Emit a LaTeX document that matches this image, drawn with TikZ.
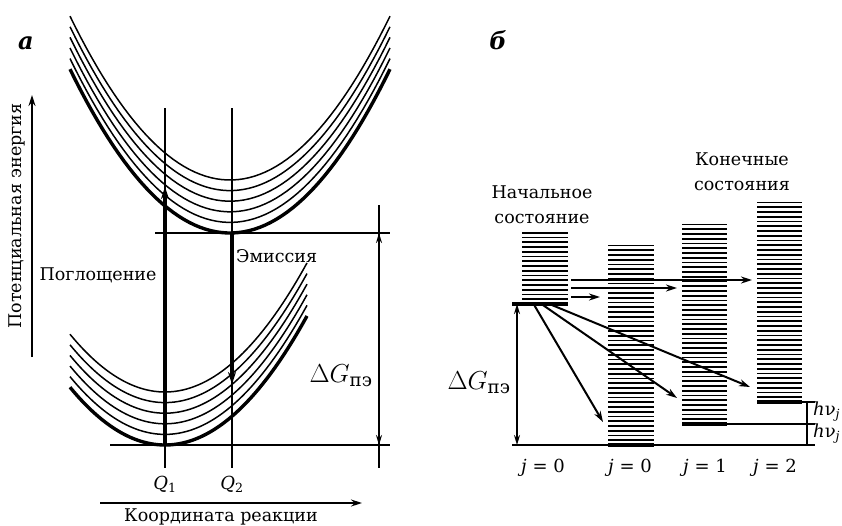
\RequirePackage{fix-cm}
\documentclass[tikz,border=0pt]{standalone}
\usepackage{amsmath}
\usepackage{fontspec}
\setmainfont{DejaVu Serif}
\usepackage{tikz}
\usetikzlibrary{arrows.meta, positioning, calc}
\tikzset{
  well/.style={line width=1.5pt},
  wellbase/.style={line width=3.4pt},
  guide/.style={line width=1.3pt},
  rung/.style={line width=1.7pt},
  rungbase/.style={line width=3.2pt},
  arrow/.style={-{Stealth[length=11pt,width=7pt]}, line width=2pt},
  bigarrow/.style={-{Stealth[length=12pt,width=8pt]}, line width=3.2pt},
  dblarrow/.style={{Stealth[length=10pt,width=6pt]}-{Stealth[length=10pt,width=6pt]}, line width=1.6pt},
  txt/.style={font=\fontsize{17.5}{25}\selectfont, inner sep=0pt, align=center},
  mathtxt/.style={font=\fontsize{18}{20}\selectfont, inner sep=0pt},
  biglbl/.style={font=\fontsize{26}{30}\selectfont, inner sep=0pt},
  panel/.style={font=\fontsize{24}{26}\selectfont\bfseries\itshape, inner sep=0pt}
}

\begin{document}
\begin{tikzpicture}[x=1pt, y=-1pt]
  \useasboundingbox (0,0) rectangle (842,525);

  % Panel letters
  \node[panel] (pa) at (26,43) {а};
  \node[panel] (pb) at (498,40) {б};

  % ---- a: potential wells ----
  \foreach \i in {1,...,5}
    \draw[well] plot[domain=70:390, samples=60] (\x, {233-\i*10.6-0.64*((\x-230)/10)^2});
  \draw[wellbase] plot[domain=70:390, samples=60] (\x, {233-0.64*((\x-230)/10)^2});
  \foreach \i in {1,...,5}
    \draw[well] plot[domain=70:307, samples=60] (\x, {445-\i*10.6-0.64*((\x-165)/10)^2});
  \draw[wellbase] plot[domain=70:307, samples=60] (\x, {445-0.64*((\x-165)/10)^2});

  % Axes
  \coordinate (yaxB) at (32,357);
  \coordinate (yaxT) at (32,95);
  \coordinate (xaxL) at (100,503);
  \coordinate (xaxR) at (362,503);
  \draw[arrow, line width=1.4pt] (yaxB) -- (yaxT);
  \draw[arrow, line width=1.4pt] (xaxL) -- (xaxR);
  \node[txt, rotate=90] (ylbl) at (17,216) {Потенциальная энергия};
  \node[txt] (xlbl) at (221,517) {Координата реакции};

  % Q lines
  \coordinate (q1T) at (165,108);
  \coordinate (q1B) at (165,468);
  \coordinate (q2T) at (232,108);
  \coordinate (q2B) at (232,468);
  \draw[guide] (q1T) -- (q1B);
  \draw[guide] (q2T) -- (q2B);
  \node[mathtxt, below=8pt of q1B] (q1) {\textit{Q}\textsubscript{1}};
  \node[mathtxt, below=8pt of q2B] (q2) {\textit{Q}\textsubscript{2}};

  % Minima levels
  \coordinate (upL) at (155,233);
  \coordinate (upR) at (390,233);
  \coordinate (loL) at (110,445);
  \coordinate (loR) at (390,445);
  \draw[guide] (upL) -- (upR);
  \draw[guide] (loL) -- (loR);

  % Transitions
  \coordinate (absS) at (165,445);
  \coordinate (absE) at (165,187);
  \coordinate (emS) at (232,233);
  \coordinate (emE) at (232,384);
  \draw[bigarrow] (absS) -- (absE);
  \draw[bigarrow] (emS) -- (emE);
  \node[txt] (absorb) at (98,275) {Поглощение};
  \node[txt, anchor=west] (emit) at (236,256) {Эмиссия};

  % Delta G (a)
  \coordinate (dgT) at (379,205);
  \coordinate (dgB) at (379,468);
  \coordinate (dgU) at (379,233);
  \coordinate (dgD) at (379,445);
  \draw[guide] (dgT) -- (dgB);
  \draw[dblarrow] (dgU) -- (dgD);
  \node[biglbl] (dGa) at (341,376) {$\Delta G_{\text{пэ}}$};

  % ---- b: vibrational ladders ----
  \foreach \xl/\xr/\yb/\n in {522/568/304/15, 608/654/445/42, 682/727/424/42, 757/802/402/42} {
    \foreach \k in {1,...,\n}
      \draw[rung] (\xl,{\yb-4.75*\k}) -- (\xr,{\yb-4.75*\k});
    \draw[rungbase] (\xl,\yb) -- (\xr,\yb);
  }
  \coordinate (s0L) at (512,304);
  \coordinate (s0R) at (568,304);
  \draw[rungbase] (s0L) -- (s0R);

  % Base lines
  \coordinate (g0L) at (512,445);
  \coordinate (g0R) at (815,445);
  \coordinate (g1L) at (727,424);
  \coordinate (g1R) at (815,424);
  \coordinate (g2L) at (802,402);
  \coordinate (g2R) at (815,402);
  \coordinate (hvT) at (807,402);
  \coordinate (hvB) at (807,445);
  \draw[guide] (g0L) -- (g0R);
  \draw[guide] (g1L) -- (g1R);
  \draw[guide] (g2L) -- (g2R);
  \draw[guide] (hvT) -- (hvB);
  \node[mathtxt, anchor=west] (hv2) at (813,412) {\textit{h}ν\textsubscript{\textit{j}}};
  \node[mathtxt, anchor=west] (hv1) at (813,434) {\textit{h}ν\textsubscript{\textit{j}}};

  % Delta G (b)
  \coordinate (dgbT) at (517,304);
  \coordinate (dgbB) at (517,445);
  \draw[dblarrow] (dgbT) -- (dgbB);
  \node[biglbl] (dGb) at (479,383) {$\Delta G_{\text{пэ}}$};

  % Transitions from initial state
  \coordinate (h1S) at (571,280);
  \coordinate (h1E) at (752,280);
  \coordinate (h2S) at (571,288);
  \coordinate (h2E) at (677,288);
  \coordinate (h3S) at (571,297);
  \coordinate (h3E) at (600,297);
  \draw[arrow] (h1S) -- (h1E);
  \draw[arrow] (h2S) -- (h2E);
  \draw[arrow] (h3S) -- (h3E);
  \coordinate (d1S) at (533,303);
  \coordinate (d1E) at (603,422);
  \coordinate (d2S) at (540,303);
  \coordinate (d2E) at (677,398);
  \coordinate (d3S) at (547,303);
  \coordinate (d3E) at (750,387);
  \draw[arrow] (d1S) -- (d1E);
  \draw[arrow] (d2S) -- (d2E);
  \draw[arrow] (d3S) -- (d3E);

  % Labels
  \node[txt] (init) at (542,205) {Начальное\\состояние};
  \node[txt] (final) at (742,172) {Конечные\\состояния};
  \node[mathtxt] (j0a) at (543,468) {\textit{j} = 0};
  \node[mathtxt] (j0b) at (630,468) {\textit{j} = 0};
  \node[mathtxt] (j1) at (705,468) {\textit{j} = 1};
  \node[mathtxt] (j2) at (775,468) {\textit{j} = 2};
\end{tikzpicture}
\end{document}
